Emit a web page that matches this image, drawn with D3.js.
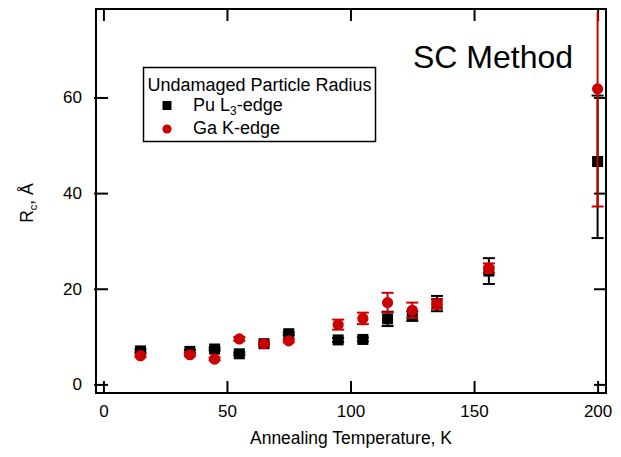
<!DOCTYPE html>
<html>
<head>
<meta charset="utf-8">
<script src="https://cdn.jsdelivr.net/npm/d3@7"></script>
<style>
  html, body { margin: 0; padding: 0; background: #fff; }
  svg { display: block; font-family: "Liberation Sans", Arial, Helvetica, sans-serif; }
</style>
</head>
<body>
<svg id="chart" width="621" height="457"></svg>
<script>
// Annealing temperatures (K)
const temps = [15, 35, 45, 55, 65, 75, 95, 105, 115, 125, 135, 156, 200];

// Pu L3-edge undamaged particle radius (Å) with lower/upper error
const puRadius = [7.0, 6.9, 7.4, 6.4, 8.5, 10.6, 9.3, 9.4, 13.7, 14.3, 16.9, 23.7, 46.6];
const puErrLo  = [0.3, 0.3, 0.3, 0.3, 0.3, 0.3, 0.4, 0.4, 1.5, 1.0, 1.6, 2.7, 16.0];
const puErrHi  = [0.3, 0.3, 0.3, 0.3, 0.3, 0.3, 0.4, 0.4, 1.5, 1.0, 1.6, 2.7, 13.8];

// Ga K-edge undamaged particle radius (Å) with symmetric error
const gaRadius = [6.0, 6.2, 5.3, 9.5, 8.5, 9.1, 12.5, 13.8, 17.1, 15.5, 16.8, 24.3, 61.8];
const gaErr    = [0.3, 0.3, 0.3, 0.4, 0.3, 0.3, 1.05, 1.2, 2.05, 1.6, 1.0, 1.0, 24.6];

// Axis ticks
const xTicks = [0, 50, 100, 150, 200];
const yTicks = [0, 20, 40, 60];

const svg = d3.select("#chart");
const plotL = 96, plotR = 606, plotT = 9, plotB = 393;

const x = d3.scaleLinear().domain([-3, 203.4]).range([plotL, plotR]);
const y = d3.scaleLinear().domain([-1.8, 78.5]).range([plotB, plotT]);

const tickLen = 12;
const fontSize = 17;

// Axes with inward ticks on all four sides
const gx = svg.append("g").attr("transform", `translate(0,${plotB})`)
  .call(d3.axisBottom(x).tickValues(xTicks).tickFormat(d3.format("d"))
    .tickSizeInner(-tickLen).tickSizeOuter(0).tickPadding(12));
const gxTop = svg.append("g").attr("transform", `translate(0,${plotT})`)
  .call(d3.axisTop(x).tickValues(xTicks).tickFormat("")
    .tickSizeInner(-tickLen).tickSizeOuter(0));
const gy = svg.append("g").attr("transform", `translate(${plotL},0)`)
  .call(d3.axisLeft(y).tickValues(yTicks).tickFormat(d3.format("d"))
    .tickSizeInner(-tickLen).tickSizeOuter(0).tickPadding(14));
const gyRight = svg.append("g").attr("transform", `translate(${plotR},0)`)
  .call(d3.axisRight(y).tickValues(yTicks).tickFormat("")
    .tickSizeInner(-tickLen).tickSizeOuter(0));

[gx, gxTop, gy, gyRight].forEach(g => {
  g.select(".domain").remove();
  g.selectAll(".tick line").attr("stroke", "#000").attr("stroke-width", 2);
  g.selectAll(".tick text").attr("fill", "#000")
    .style("font-size", fontSize + "px")
    .style("font-family", "'Liberation Sans', Arial, Helvetica, sans-serif");
});
// the y ticks poke slightly outside the frame
gy.selectAll(".tick line").attr("x1", -2);

// Frame
svg.append("rect")
  .attr("x", plotL).attr("y", plotT)
  .attr("width", plotR - plotL).attr("height", plotB - plotT)
  .attr("fill", "none").attr("stroke", "#000").attr("stroke-width", 2);

// Clip for data marks
svg.append("clipPath").attr("id", "plotClip")
  .append("rect").attr("x", plotL).attr("y", plotT + 3)
  .attr("width", plotR - plotL).attr("height", plotB - plotT - 3);

const plot = svg.append("g").attr("clip-path", "url(#plotClip)");
const capHalf = 6;

function drawSeries(cls, color, values, lo, hi, shape) {
  const data = temps.map((t, i) => ({ t, v: values[i], lo: values[i] - lo[i], hi: values[i] + hi[i] }));
  const g = plot.append("g").attr("class", cls);
  const eb = g.selectAll("g.err").data(data).join("g").attr("class", "err")
    .attr("stroke", color).attr("stroke-width", 2);
  eb.append("line")
    .attr("x1", d => x(d.t)).attr("x2", d => x(d.t))
    .attr("y1", d => y(d.lo)).attr("y2", d => y(d.hi));
  eb.append("line")
    .attr("x1", d => x(d.t) - capHalf).attr("x2", d => x(d.t) + capHalf)
    .attr("y1", d => y(d.lo)).attr("y2", d => y(d.lo));
  eb.append("line")
    .attr("x1", d => x(d.t) - capHalf).attr("x2", d => x(d.t) + capHalf)
    .attr("y1", d => y(d.hi)).attr("y2", d => y(d.hi));
  if (shape === "square") {
    const s = 11;
    g.selectAll("rect.pt").data(data).join("rect").attr("class", "pt")
      .attr("x", d => x(d.t) - s / 2).attr("y", d => y(d.v) - s / 2)
      .attr("width", s).attr("height", s).attr("fill", color);
  } else {
    g.selectAll("circle.pt").data(data).join("circle").attr("class", "pt")
      .attr("cx", d => x(d.t)).attr("cy", d => y(d.v))
      .attr("r", 5.6).attr("fill", color);
  }
}

const red = "#cc0000";
drawSeries("pu", "#000", puRadius, puErrLo, puErrHi, "square");
drawSeries("ga", red, gaRadius, gaErr, gaErr, "circle");

// Title inside plot
svg.append("text").attr("x", 413).attr("y", 68)
  .style("font-size", "32px").attr("fill", "#000").text("SC Method");

// Legend
const legendFont = 18;
const lg = svg.append("g");
lg.append("rect").attr("x", 143.5).attr("y", 67.5).attr("width", 232).attr("height", 74)
  .attr("fill", "#fff").attr("stroke", "#000").attr("stroke-width", 1.5);
lg.append("text").attr("x", 147.5).attr("y", 91).style("font-size", legendFont + "px")
  .text("Undamaged Particle Radius");
lg.append("rect").attr("x", 162.5).attr("y", 101).attr("width", 9).attr("height", 9).attr("fill", "#000");
const t1 = lg.append("text").attr("x", 193).attr("y", 111).style("font-size", legendFont + "px");
t1.append("tspan").text("Pu L");
t1.append("tspan").attr("dy", 4).style("font-size", "12px").text("3");
t1.append("tspan").attr("dy", -4).text("-edge");
lg.append("circle").attr("cx", 167).attr("cy", 129).attr("r", 4.6).attr("fill", red);
lg.append("text").attr("x", 193).attr("y", 134).style("font-size", legendFont + "px").text("Ga K-edge");

// Axis titles
svg.append("text").attr("x", (plotL + plotR) / 2).attr("y", 444)
  .attr("text-anchor", "middle").style("font-size", "17.5px")
  .text("Annealing Temperature, K");

const yl = svg.append("text")
  .attr("transform", "translate(33,203) rotate(-90)")
  .attr("text-anchor", "middle").style("font-size", "17.5px");
yl.append("tspan").text("R");
yl.append("tspan").attr("dy", 4).style("font-size", "11px").text("c");
yl.append("tspan").attr("dy", -4).text(", Å");
</script>
</body>
</html>
